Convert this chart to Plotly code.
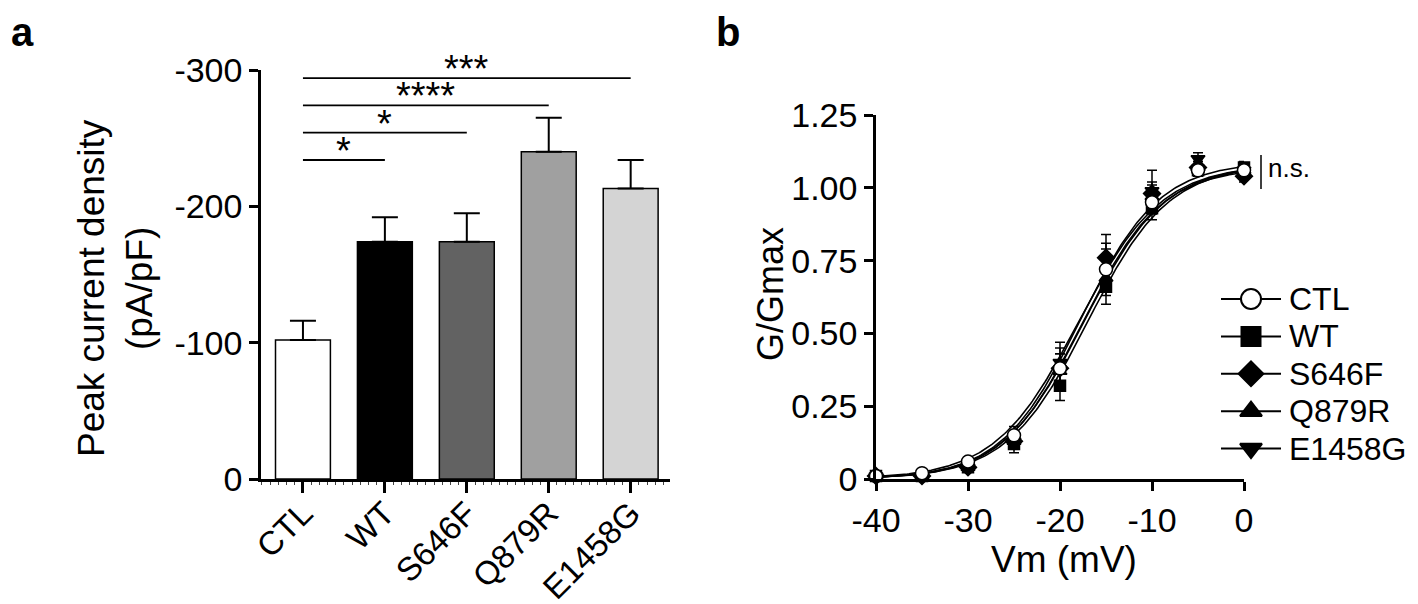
import numpy as np
import plotly.graph_objects as go

W, H = 1418, 604
FONT = "Liberation Sans, Arial, sans-serif"

# ---------- panel a data ----------
categories = ["CTL", "WT", "S646F", "Q879R", "E1458G"]
peak_density = [-102, -174, -174, -240, -213]
peak_sem = [14, 18, 21, 25, 21]
bar_colors = ["#ffffff", "#000000", "#626262", "#a0a0a0", "#d4d4d4"]
ya_ticks = [0, -100, -200, -300]
ya_ticktext = ["0", "-100", "-200", "-300"]
sig_to = [1, 2, 3, 4]
sig_level = [-234, -254, -274, -294]
sig_text = ["*", "*", "****", "***"]

# ---------- panel b data ----------
vm = [-40, -35, -30, -25, -20, -15, -10, -5, 0]
series = ["CTL", "WT", "S646F", "Q879R", "E1458G"]
g_ctl = [0.01, 0.02, 0.06, 0.15, 0.38, 0.72, 0.95, 1.06, 1.06]
g_wt = [0.01, 0.01, 0.04, 0.12, 0.32, 0.66, 0.93, 1.06, 1.07]
g_s646f = [0.01, 0.01, 0.04, 0.13, 0.38, 0.76, 0.98, 1.07, 1.04]
g_q879r = [0.01, 0.01, 0.04, 0.13, 0.37, 0.69, 0.97, 1.07, 1.06]
g_e1458g = [0.01, 0.01, 0.04, 0.13, 0.40, 0.75, 0.99, 1.10, 1.06]
e_ctl = [0.005, 0.005, 0.01, 0.03, 0.07, 0.07, 0.04, 0.02, 0.01]
e_wt = [0.005, 0.005, 0.01, 0.03, 0.05, 0.06, 0.04, 0.02, 0.02]
e_s646f = [0.005, 0.005, 0.01, 0.02, 0.05, 0.08, 0.04, 0.02, 0.02]
e_q879r = [0.005, 0.005, 0.01, 0.02, 0.06, 0.06, 0.04, 0.02, 0.02]
e_e1458g = [0.005, 0.005, 0.01, 0.02, 0.07, 0.06, 0.07, 0.02, 0.02]
# Boltzmann fit parameters: Gmax, V1/2 (mV), slope k (mV)
fit_gmax = [1.08, 1.08, 1.07, 1.08, 1.09]
fit_vhalf = [-18.0, -17.0, -17.6, -17.4, -17.8]
fit_k = [4.5, 4.4, 4.3, 4.4, 4.3]
symbols = ["circle", "square", "diamond", "triangle-up", "triangle-down"]
sym_fill = ["white", "black", "black", "black", "black"]
sym_size = [13, 11, 13, 12, 12]
leg_size = [20, 19, 19, 19, 19]
yb_ticks = [0, 0.25, 0.5, 0.75, 1.0, 1.25]
yb_ticktext = ["0", "0.25", "0.50", "0.75", "1.00", "1.25"]
xb_ticks = [-40, -30, -20, -10, 0]
xb_ticktext = ["-40", "-30", "-20", "-10", "0"]

g_all = [g_ctl, g_wt, g_s646f, g_q879r, g_e1458g]
e_all = [e_ctl, e_wt, e_s646f, e_q879r, e_e1458g]


def px(xp):
    return xp / W


def py(yp):
    return 1 - yp / H


fig = go.Figure()

# ---------- panel a ----------
fig.add_trace(go.Bar(
    x=list(range(len(categories))), y=peak_density, width=0.67,
    marker=dict(color=bar_colors, line=dict(color="black", width=1.5)),
    error_y=dict(type="data", symmetric=False, array=[0] * 5, arrayminus=peak_sem,
                 color="black", thickness=2, width=13),
    xaxis="x", yaxis="y", showlegend=False,
))

shapes = []
annotations = []
for t, lvl, txt in zip(sig_to, sig_level, sig_text):
    shapes.append(dict(type="line", xref="x", yref="y", x0=0, x1=t, y0=lvl, y1=lvl,
                       line=dict(color="black", width=1.8)))
    annotations.append(dict(xref="x", yref="y", x=t / 2, y=lvl, text=txt, showarrow=False,
                            yanchor="bottom", yshift=-14,
                            font=dict(family=FONT, size=38, color="black")))

# ---------- panel b ----------
vfine = np.linspace(-40, 0, 201)
for i in range(len(series)):
    gfit = fit_gmax[i] / (1 + np.exp((fit_vhalf[i] - vfine) / fit_k[i]))
    fig.add_trace(go.Scatter(x=vfine, y=gfit, mode="lines", line=dict(color="black", width=1.6),
                             xaxis="x2", yaxis="y2", showlegend=False, hoverinfo="skip"))
for i in [1, 2, 3, 4, 0]:
    fig.add_trace(go.Scatter(
        x=vm, y=g_all[i], mode="markers",
        marker=dict(symbol=symbols[i], size=sym_size[i], color=sym_fill[i],
                    line=dict(color="black", width=1.5)),
        error_y=dict(type="data", array=e_all[i], color="black", thickness=1.5, width=5),
        xaxis="x2", yaxis="y2", showlegend=False, cliponaxis=False,
    ))

# ---------- manual legend for panel b (pixel-unit helper axes) ----------
leg_x0, leg_x1, leg_xm, leg_tx = 1213, 1273, 1243, 1279
leg_top, leg_step = 291, 37.4
for i in range(len(series)):
    ry = leg_top + leg_step * i
    fig.add_trace(go.Scatter(x=[leg_x0, leg_x1], y=[ry, ry], mode="lines",
                             line=dict(color="black", width=2), xaxis="x3", yaxis="y3",
                             showlegend=False, hoverinfo="skip", cliponaxis=False))
    fig.add_trace(go.Scatter(x=[leg_xm], y=[ry], mode="markers",
                             marker=dict(symbol=symbols[i], size=leg_size[i], color=sym_fill[i],
                                         line=dict(color="black", width=2)),
                             xaxis="x3", yaxis="y3", showlegend=False, hoverinfo="skip",
                             cliponaxis=False))
    annotations.append(dict(xref="x3", yref="y3", x=leg_tx, y=ry, text=series[i],
                            showarrow=False, xanchor="left", yanchor="middle",
                            font=dict(family=FONT, size=32, color="black")))

# n.s. marker
shapes.append(dict(type="line", xref="paper", yref="paper", x0=px(1253), x1=px(1253),
                   y0=py(181), y1=py(147), line=dict(color="black", width=1.5)))
annotations.append(dict(xref="paper", yref="paper", x=px(1258), y=py(160), text="n.s.",
                        showarrow=False, xanchor="left", yanchor="middle",
                        font=dict(family=FONT, size=26, color="black")))

# panel letters
annotations.append(dict(xref="paper", yref="paper", x=px(1), y=1, text="<b>a</b>",
                        showarrow=False, xanchor="left", yanchor="top",
                        font=dict(family=FONT, size=40, color="black")))
annotations.append(dict(xref="paper", yref="paper", x=px(706), y=1, text="<b>b</b>",
                        showarrow=False, xanchor="left", yanchor="top",
                        font=dict(family=FONT, size=40, color="black")))

# axis titles
annotations.append(dict(xref="paper", yref="paper", x=px(108), y=py(280),
                        text="Peak current density<br>(pA/pF)", textangle=-90,
                        showarrow=False, xanchor="center", yanchor="middle",
                        font=dict(family=FONT, size=37, color="black")))
annotations.append(dict(xref="paper", yref="paper", x=px(762), y=py(286),
                        text="G/Gmax", textangle=-90,
                        showarrow=False, xanchor="center", yanchor="middle",
                        font=dict(family=FONT, size=36, color="black")))
annotations.append(dict(xref="paper", yref="paper", x=px(1056), y=py(551),
                        text="Vm (mV)",
                        showarrow=False, xanchor="center", yanchor="middle",
                        font=dict(family=FONT, size=37, color="black")))

tickfont = dict(family=FONT, size=34, color="black")
axis_common = dict(showline=True, linecolor="black", linewidth=2.5, showgrid=False,
                   zeroline=False, ticks="outside", tickcolor="black", tickwidth=2.5,
                   automargin=False)
hidden = dict(visible=False, showgrid=False, zeroline=False, automargin=False)

fig.update_layout(
    template="none",
    width=W, height=H, margin=dict(l=0, r=0, t=0, b=0, autoexpand=False),
    paper_bgcolor="white", plot_bgcolor="rgba(0,0,0,0)",
    font=dict(family=FONT, color="black"),
    showlegend=False,
    xaxis=dict(domain=[px(253), px(662)], range=[-0.512, 4.48], anchor="y",
               tickvals=list(range(5)), ticktext=categories, tickangle=-45, ticklen=11,
               tickfont=dict(family=FONT, size=33, color="black"), ticklabelstandoff=-12,
               minor=dict(ticks="outside", dtick=0.1, ticklen=3, tickcolor="#444", tickwidth=1),
               **axis_common),
    yaxis=dict(domain=[py(471), py(62)], range=[0, -300], anchor="x", tickfont=tickfont,
               tickvals=ya_ticks, ticktext=ya_ticktext, ticklen=9, **axis_common),
    xaxis2=dict(domain=[px(868), px(1236)], range=[-40, 0], anchor="y2", tickfont=tickfont,
                tickvals=xb_ticks, ticktext=xb_ticktext, ticklen=9, **axis_common),
    yaxis2=dict(domain=[py(471), py(107)], range=[0, 1.25], anchor="x2", tickfont=tickfont,
                tickvals=yb_ticks, ticktext=yb_ticktext, ticklen=9, **axis_common),
    xaxis3=dict(domain=[px(1180), px(1418)], range=[1180, 1418], anchor="y3", **hidden),
    yaxis3=dict(domain=[py(470), py(270)], range=[470, 270], anchor="x3", **hidden),
    shapes=shapes, annotations=annotations,
)

fig.write_html("out.html")
